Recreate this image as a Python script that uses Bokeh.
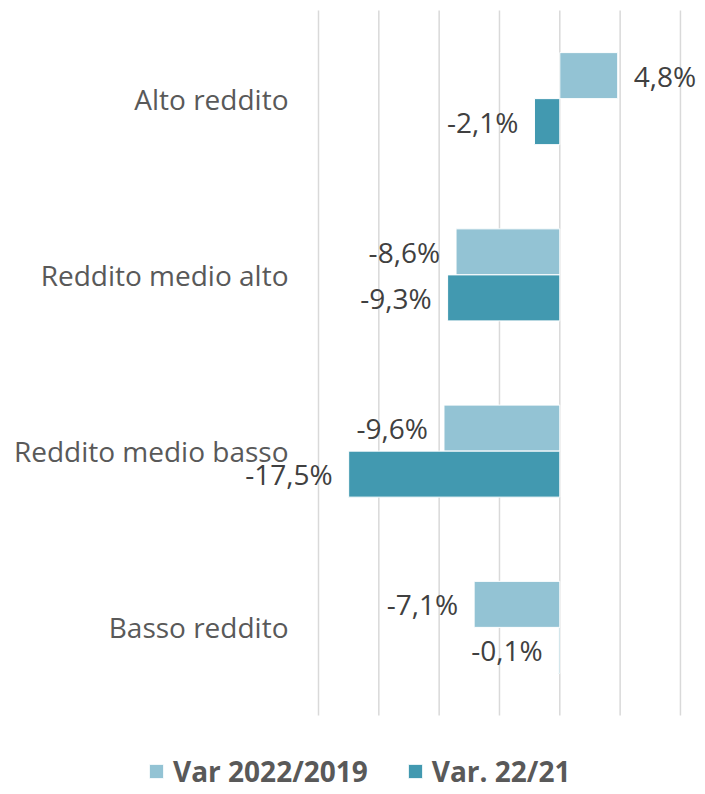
from bokeh.plotting import figure
from bokeh.models import ColumnDataSource, Range1d, Legend, LegendItem
from bokeh.core.properties import value
from bokeh.embed import file_html
from bokeh.resources import INLINE

# ---- data ----
categories = ["Alto reddito", "Reddito medio alto", "Reddito medio basso", "Basso reddito"]
series_names = ["Var 2022/2019", "Var. 22/21"]
var_2022_2019 = [4.8, -8.6, -9.6, -7.1]
var_22_21 = [-2.1, -9.3, -17.5, -0.1]
grid_ticks = [-20, -15, -10, -5, 0, 5, 10]

colors = ["#93C3D4", "#4299B0"]
FONT = "Open Sans"

def fmt(v):
    return f"{v:.1f}%".replace(".", ",")

n = len(categories)
ypos = [n - i - 0.5 for i in range(n)]   # category band centres (top to bottom)
off = 0.1305
bh = 0.261

def make_source(vals, shift):
    return ColumnDataSource(dict(
        y=[c + shift for c in ypos],
        val=vals,
        label=[fmt(v) for v in vals],
        align=["left" if v > 0 else "right" for v in vals],
        xoff=[16 if v > 0 else -16 for v in vals],
    ))

src1 = make_source(var_2022_2019, off)
src2 = make_source(var_22_21, -off)

# ---- layout (screen geometry) ----
W, H = 697, 794
px_x = 241.3 / 20.0          # pixels per percentage point
x0_px = 318.0                # pixel position of the -20 gridline
px_y = 176.25                # pixels per category band
top_px, bottom_px = 10.0, 715.0
x_start = grid_ticks[0] - x0_px / px_x
x_end = x_start + W / px_x
y_end = n + top_px / px_y
y_start = -(H - bottom_px) / px_y

p = figure(width=W, height=H,
           x_range=Range1d(x_start, x_end), y_range=Range1d(y_start, y_end),
           x_axis_location=None, y_axis_location=None,
           output_backend="svg", toolbar_location=None,
           min_border=0)
p.outline_line_color = None
p.xgrid.grid_line_color = None
p.ygrid.grid_line_color = None

# gridlines spanning the category area only
p.segment(x0=grid_ticks, y0=[0] * len(grid_ticks), x1=grid_ticks, y1=[n] * len(grid_ticks),
          line_color="#D9D9D9", line_width=1.5)

r1 = p.hbar(y="y", right="val", left=0, height=bh, source=src1,
            fill_color=colors[0], line_color="white", line_width=1)
r2 = p.hbar(y="y", right="val", left=0, height=bh, source=src2,
            fill_color=colors[1], line_color="white", line_width=1)

for src in (src1, src2):
    p.text(x="val", y="y", text="label", source=src,
           text_align="align", x_offset="xoff", text_baseline="middle",
           text_font=value(FONT), text_font_size="28px", text_color="#404040")

# category labels
cat_src = ColumnDataSource(dict(x=[grid_ticks[0]] * n, y=ypos, text=categories))
p.text(x="x", y="y", text="text", source=cat_src, x_offset=-30,
       text_align="right", text_baseline="middle",
       text_font=value(FONT), text_font_size="28px", text_color="#595959")

legend = Legend(items=[LegendItem(label=series_names[0], renderers=[r1]),
                       LegendItem(label=series_names[1], renderers=[r2])],
                orientation="horizontal", location=(147, 4),
                glyph_width=18, glyph_height=18, label_standoff=8, spacing=38,
                padding=0, margin=0, border_line_color=None,
                background_fill_alpha=0,
                label_text_font=FONT, label_text_font_size="28px",
                label_text_font_style="bold", label_text_color="#595959")
p.add_layout(legend, "center")

open("out.html", "w").write(file_html(p, INLINE))
